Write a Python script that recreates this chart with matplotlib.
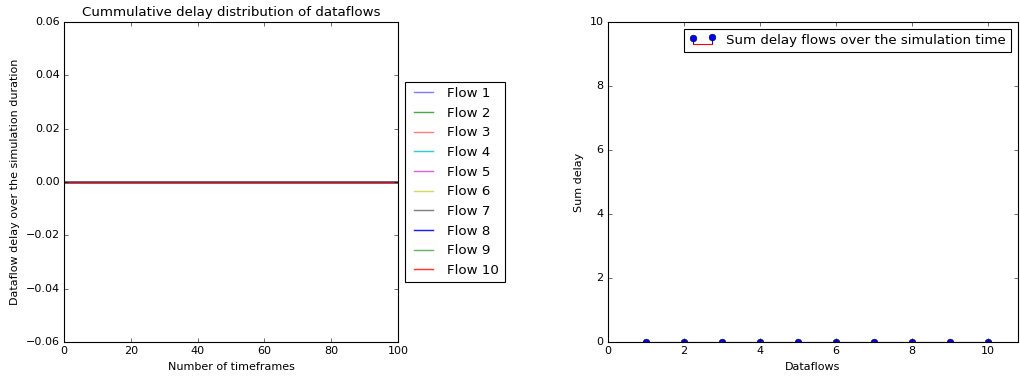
import numpy as np
import matplotlib.pyplot as plt

plt.style.use('classic')

# Delay of each dataflow over the simulation timeframes (all zero)
timeframes = np.arange(0, 101)
flow_names = ['Flow %d' % i for i in range(1, 11)]
flow_delays = [np.zeros(len(timeframes)) for _ in flow_names]

# Total delay per dataflow
dataflows = [1, 2, 3, 4, 5, 6, 7, 8, 9, 10]
sum_delays = [0, 0, 0, 0, 0, 0, 0, 0, 0, 0]

colors = ['#0000ff', '#008000', '#ff0000', '#00bfbf', '#bf00bf',
          '#bfbf00', '#000000', '#0000ff', '#008000', '#ff0000']
alphas = [0.5, 0.7, 0.5, 0.8, 0.6, 0.6, 0.5, 0.9, 0.6, 0.8]

fig = plt.figure(figsize=(12.75, 4.725), dpi=80, facecolor='white')

ax1 = fig.add_axes([0.0627, 0.0952, 0.3275, 0.8466])
for name, d, c, a in zip(flow_names, flow_delays, colors, alphas):
    ax1.plot(timeframes, d, color=c, alpha=a, linewidth=1.3, label=name)
ax1.set_xlim(0, 100)
ax1.set_ylim(-0.06, 0.06)
ax1.set_title('Cummulative delay distribution of dataflows', fontsize=12)
ax1.set_xlabel('Number of timeframes', fontsize=10)
ax1.set_ylabel('Dataflow delay over the simulation duration', fontsize=10)
ax1.tick_params(labelsize=10)
ax1.legend(loc='center left', bbox_to_anchor=(1.0, 0.5), fontsize=12)

ax2 = fig.add_axes([0.596, 0.0952, 0.402, 0.8466])
markerline, stemlines, baseline = ax2.stem(
    dataflows, sum_delays, linefmt='b-', markerfmt='bo', basefmt='r-',
    label='Sum delay flows over the simulation time')
markerline.set_clip_on(True)
ax2.set_xlim(0, 10.8)
ax2.set_ylim(0, 10)
ax2.set_xlabel('Dataflows', fontsize=10)
ax2.set_ylabel('Sum delay', fontsize=10)
ax2.tick_params(labelsize=10)
ax2.legend(loc='upper right', fontsize=12, numpoints=2)

fig.savefig('out.png', dpi=80, facecolor='white')
